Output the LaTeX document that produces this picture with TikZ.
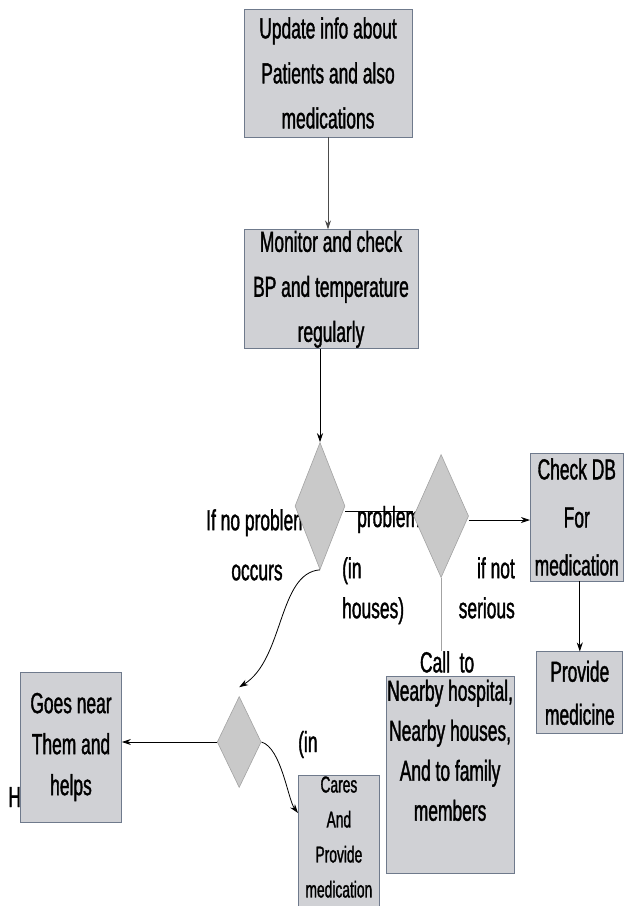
\documentclass[tikz,border=0pt]{standalone}
\usepackage{xcolor}
\usepackage{fontspec}
\setmainfont{Liberation Sans}[FakeStretch=0.6,FakeBold=1.2]
\usepackage{tikz}
\usetikzlibrary{shapes.geometric,arrows.meta,positioning,backgrounds}
\definecolor{boxfill}{HTML}{D0D1D5}
\definecolor{boxline}{HTML}{6F7A8C}
\definecolor{decfill}{HTML}{C9C9C9}
\definecolor{decline}{HTML}{A3A3A3}

\begin{document}
\begin{tikzpicture}[
  x=1pt,y=1pt,
  node distance=60pt,
  box/.style={rectangle,draw=boxline,fill=boxfill,line width=0.8pt,inner sep=1pt,align=center,font=\fontsize{29}{45}\selectfont},
  dec/.style={diamond,draw=decline,fill=decfill,line width=0.6pt,inner sep=0pt},
  lbl/.style={inner sep=0pt,font=\fontsize{29}{40}\selectfont},
  arr/.style={-{Stealth[length=9pt,width=6pt]},line width=0.8pt}
]
\useasboundingbox (0,0) rectangle (624,-906);
\node[box,minimum width=168pt,minimum height=128pt] (upd) at (328,-73) {Update info about\\Patients and also\\medications};
\node[box,minimum width=174pt,minimum height=118pt,below=92pt of upd,xshift=3pt] (mon) {Monitor and check\\BP and temperature\\regularly};
\node[dec,minimum width=50pt,minimum height=127pt,below=93pt of mon,xshift=-11pt] (d1) {};
\node[dec,minimum width=55pt,minimum height=123pt,right=68pt of d1,yshift=-10pt] (d2) {};
\node[box,minimum width=93pt,minimum height=128pt,right=61pt of d2,yshift=-1pt,font=\fontsize{29}{48}\selectfont] (chk) {Check DB\\For\\medication};
\node[box,minimum width=86pt,minimum height=82pt,below=70pt of chk,xshift=3pt,font=\fontsize{29}{43}\selectfont] (med) {Provide\\medicine};
\node[box,minimum width=128pt,minimum height=197pt,below=98pt of d2,xshift=9pt,font=\fontsize{29}{40}\selectfont] (call) {Nearby hospital,\\Nearby houses,\\And to family\\members\rule[-49pt]{0pt}{0pt}};
\node[lbl,above=3pt of call,xshift=-3pt] (calllbl) {Call~~to};
\node[box,minimum width=101pt,minimum height=150pt,font=\fontsize{29}{41}\selectfont] (goes) at (71,-747) {Goes near\\Them and\\helps};
\node[lbl,anchor=base east] (hlbl) at ([xshift=1pt,yshift=-60pt]goes.west) {H};
\node[dec,minimum width=44pt,minimum height=91pt,right=95pt of goes,yshift=5pt] (d3) {};
\node[box,anchor=north west,minimum width=81pt,minimum height=132pt,font=\fontsize{23}{35}\selectfont] (cares) at (298,-775) {Cares\\And\\Provide\\medication\rule[-12pt]{0pt}{0pt}};
% labels sit behind the decisions
\begin{scope}[on background layer]
\node[lbl,align=center,anchor=north,font=\fontsize{29}{50}\selectfont] (noprob) at (257,-509) {If no problem\\occurs};
\node[lbl,anchor=base west] (prob) at (357,-527) {problem};
\node[lbl,align=left,anchor=north west] (inhouse) at (342,-557) {(in\\houses)};
\node[lbl,align=right,anchor=north east] (notser) at (515,-557) {if not\\serious};
\node[lbl,anchor=base west] (inlbl) at (298,-752) {(in};
\end{scope}
\draw[arr,draw=black!70] (upd.south) -- (upd.south |- mon.north);
\draw[arr] (d1.north |- mon.south) -- (d1.north);
\draw[line width=0.8pt] ([yshift=-5pt]d1.east) -- ([yshift=5pt]d2.west);
\draw[arr] ([yshift=-4pt]d2.east) -- ([yshift=-4pt]d2.east -| chk.west);
\draw[arr] (med.north |- chk.south) -- (med.north);
\draw[line width=0.8pt,draw=decline] (d2.south) -- (d2.south |- calllbl.north);
\draw[arr] (d1.south) .. controls +(-42,-3) and +(45,28) .. ([yshift=9pt]d3.north);
\draw[arr] (d3.west) -- (d3.west -| goes.east);
\draw[arr] (d3.east) .. controls +(20,-6) and +(-10,13) .. ([yshift=-38pt]cares.north west);
\end{tikzpicture}
\end{document}
